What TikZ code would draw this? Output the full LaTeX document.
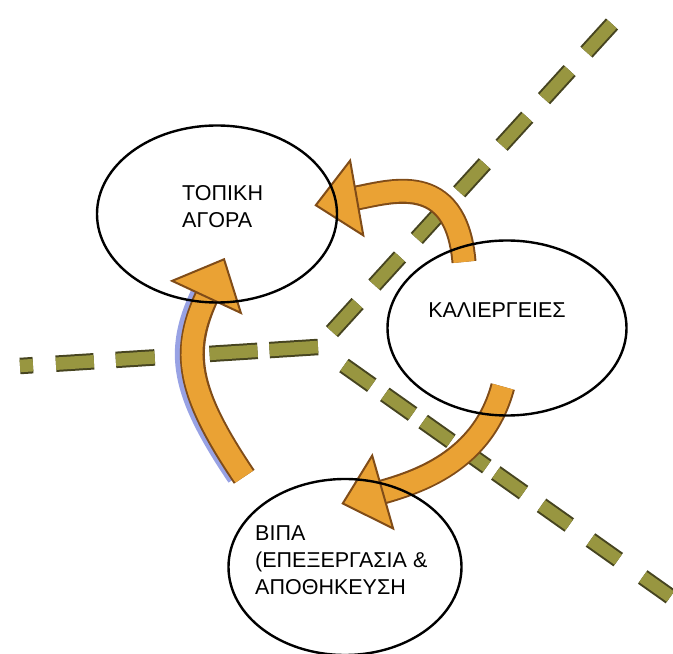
\documentclass[tikz,border=0pt]{standalone}
\usepackage{fontspec}
\setmainfont{Liberation Sans}
\usetikzlibrary{arrows.meta,shapes.geometric}
\definecolor{trackfill}{RGB}{152,150,64}
\definecolor{trackedge}{RGB}{70,68,32}
\definecolor{arrowfill}{RGB}{234,162,52}
\definecolor{arrowedge}{RGB}{128,76,24}
\definecolor{sketchblue}{RGB}{152,162,228}
\pgfdeclarelayer{back}
\pgfdeclarelayer{mid}
\pgfsetlayers{back,mid,main}
\tikzset{
	field/.style = {draw, ellipse, line width=2.4pt, inner sep=0pt},
	fieldtext/.style = {font=\fontsize{21.5}{27}\selectfont, inner sep=0pt, align=left},
	track/.style = {draw=trackedge, double=trackfill, double distance=12.5pt, line width=2pt},
	flow/.style = {line width=21pt, draw=arrowfill,
		-{Triangle[length=44pt, width=80pt, fill=arrowfill, color=arrowedge, line width=2pt]},
		preaction={draw=arrowedge, line width=25pt, arrows=-, shorten >=40pt}},
	sketch/.style = {preaction={draw=sketchblue, line width=21pt, arrows=-, shorten >=40pt,
		transform canvas={xshift=-7pt}}}
}

\begin{document}
\begin{tikzpicture}[x=1pt, y=1pt]
	\useasboundingbox (0,0) rectangle (673,654);
	\node[field, minimum width=240pt, minimum height=177pt] (agora) at (217,440) {};
	\node[field, minimum width=239pt, minimum height=175pt] (kall) at (507,326) {};
	\node[field, minimum width=233pt, minimum height=176pt] (vipa) at (345,87) {};
	\node[fieldtext, anchor=west] (agoratext) at (182,447) {ΤΟΠΙΚΗ\\ΑΓΟΡΑ};
	\node[fieldtext] (kalltext) at (497,344) {ΚΑΛΙΕΡΓΕΙΕΣ};
	\node[fieldtext, anchor=west] (vipatext) at (255,94) {ΒΙΠΑ\\(ΕΠΕΞΕΡΓΑΣΙΑ \&\\ΑΠΟΘΗΚΕΥΣΗ};
	\coordinate (hub) at (318,307);
	\coordinate (ne) at (612,630);
	\coordinate (w) at (20,288);
	\coordinate (sestart) at (344,288.5);
	\coordinate (se) at (671,57);
	\begin{pgfonlayer}{back}
		\draw[track, dash pattern=on 38pt off 25pt] (ne) -- (hub);
		\draw[track, dash pattern=on 13pt off 23pt on 38pt off 22pt on 39pt off 55pt on 48pt off 12pt on 52pt off 40pt] (w) -- (hub);
		\draw[track, dash pattern=on 34pt off 16pt on 34pt off 13pt on 34pt off 10pt on 34pt off 11pt on 34pt off 22pt on 34pt off 26pt on 34pt off 30pt on 34pt off 40pt] (sestart) -- (se);
	\end{pgfonlayer}
	\begin{pgfonlayer}{mid}
		\draw[flow] ([shift={(9,-14)}]kall.123) to[out=95, in=10, out looseness=1.5, in looseness=1.2] ([shift={(-23,-2)}]agora.5);
		\draw[flow] ([shift={(2,30)}]kall.266) to[out=-105, in=16] ([shift={(1,-26)}]vipa.93);
		\draw[sketch, flow] ([shift={(-25,22)}]vipa.138) to[out=124, in=-115, looseness=1.2] ([shift={(-8,45)}]agora.-80);
	\end{pgfonlayer}
\end{tikzpicture}
\end{document}
